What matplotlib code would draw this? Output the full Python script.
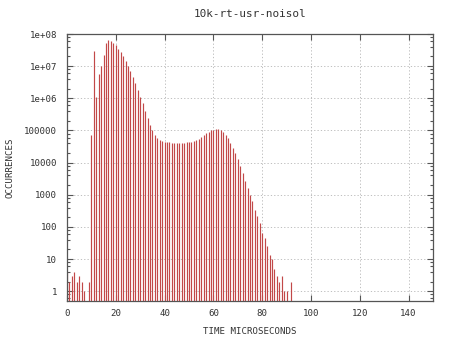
import matplotlib
matplotlib.use("Agg")
import matplotlib.pyplot as plt
from matplotlib.ticker import LogLocator, FixedLocator, NullFormatter

title = "10k-rt-usr-noisol"
xlabel = "TIME MICROSECONDS"
ylabel = "OCCURRENCES"

# latency histogram: microseconds -> number of samples
usec = list(range(0, 91)) + [92]
counts = [
    4, 2, 3, 4, 2, 3, 2, 1, 0, 2,                       # 0-9
    74000, 3.0e7, 1.1e6, 5.6e6, 1.0e7, 2.2e7, 5.2e7, 6.3e7, 6.0e7, 5.2e7,  # 10-19
    4.4e7, 3.4e7, 2.7e7, 2.0e7, 1.48e7, 1.0e7, 7.2e6, 4.7e6, 2.95e6, 1.8e6,  # 20-29
    1.1e6, 7.1e5, 3.9e5, 2.45e5, 1.51e5, 1.07e5, 74000, 59000, 51000, 45700,  # 30-39
    43600, 43000, 42500, 42000, 42000, 41500, 41500, 42000, 42000, 42500,  # 40-49
    43000, 44000, 45700, 50100, 56200, 63100, 72400, 81300, 91200, 100000,  # 50-59
    107000, 112000, 112000, 104700, 91200, 74100, 57500, 41700, 28800, 19900,  # 60-69
    12600, 7760, 4790, 2630, 1620, 1020, 631, 347, 214, 135,  # 70-79
    66, 46, 25, 13, 10, 5, 3, 2, 3, 1,  # 80-89
    1, 2,  # 90, 92
]
xticks = [0, 20, 40, 60, 80, 100, 120, 140]
yticks = [1, 10, 100, 1000, 10000, 100000, 1e6, 1e7, 1e8]
ytick_labels = ["1", "10", "100", "1000", "10000", "100000", "1e+06", "1e+07", "1e+08"]

plt.rcParams["font.family"] = ["DejaVu Sans Mono"]
plt.rcParams["font.size"] = 6.6
txt = "#333333"

fig = plt.figure(figsize=(4.5, 3.38), dpi=100)
ax = fig.add_axes([67 / 450, 1 - 301 / 338, 366 / 450, 267 / 338])

ymin = 0.5
xs = [u for u, c in zip(usec, counts) if c > 0]
ys = [c for c in counts if c > 0]
ax.vlines(xs, ymin, ys, color="#c24848", linewidth=0.85)

ax.set_yscale("log")
ax.set_xlim(0, 150)
ax.set_ylim(ymin, 1e8)

ax.xaxis.set_major_locator(FixedLocator(xticks))
ax.yaxis.set_major_locator(FixedLocator(yticks))
ax.set_yticklabels(ytick_labels)
ax.yaxis.set_minor_locator(LogLocator(base=10, subs=[2, 4, 6, 8], numticks=20))
ax.yaxis.set_minor_formatter(NullFormatter())
ax.xaxis.set_minor_locator(FixedLocator([]))

ax.tick_params(which="both", direction="in", top=True, right=True,
               color="#555555", width=0.8, labelcolor=txt)
ax.tick_params(which="major", length=4)
ax.tick_params(which="minor", length=2)
ax.tick_params(axis="y", pad=7)
ax.tick_params(axis="x", pad=6)

ax.grid(True, which="major", linestyle=(0, (1.5, 2.5)), color="#b4b4b4", linewidth=0.6)
ax.set_axisbelow(True)
for s in ax.spines.values():
    s.set_color("#555555")
    s.set_linewidth(0.9)

ax.set_title(title, color=txt, pad=12)
ax.set_xlabel(xlabel, color=txt, labelpad=6)
ax.set_ylabel(ylabel, color=txt, labelpad=7)

fig.savefig("out.png", dpi=100, facecolor="white")
